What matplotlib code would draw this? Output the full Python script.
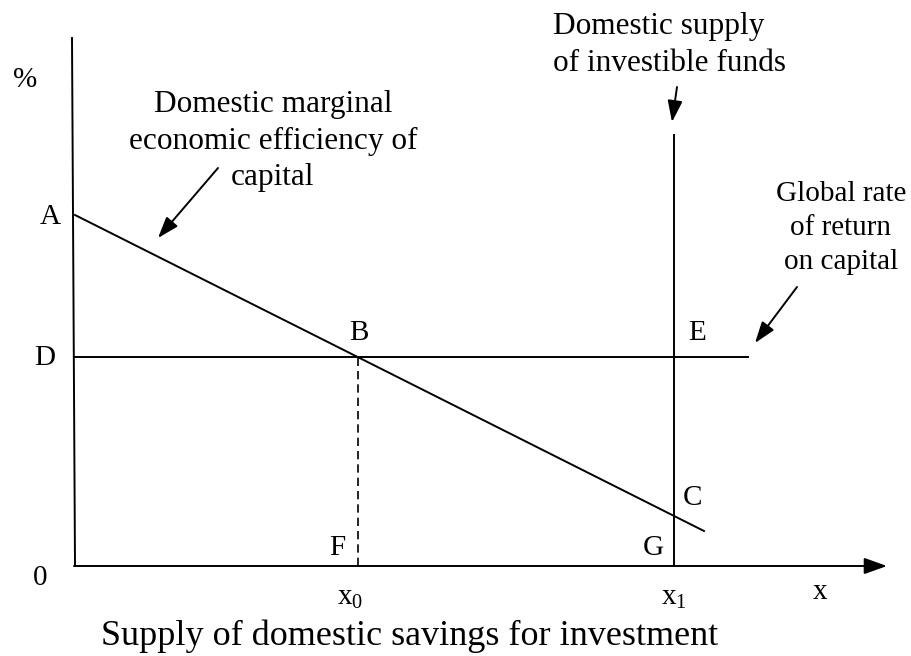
import matplotlib
matplotlib.use("Agg")
import matplotlib.pyplot as plt

# ---- diagram values (units: distance from origin 0) ----
mec_x = [0, 629]          # domestic MEC schedule, A -> past C
mec_y = [351, 35]
world_rate = 209          # D-B-E line
world_rate_end = 673
x0 = 283                  # domestic investment at world rate
x1 = 599                  # domestic supply of investible funds
supply_top = 431
yaxis_top = 528
xaxis_end = 812

point_labels = ["A", "D", "B", "E", "C", "F", "G"]

plt.rcParams["font.family"] = ["Liberation Serif", "DejaVu Serif"]
plt.rcParams["mathtext.default"] = "regular"
FS = 21
FS_NOTE = 22.5
FS_CAP = 26

fig = plt.figure(figsize=(9.11, 6.56), dpi=100)
ax = fig.add_axes([0, 0, 1, 1])
ax.set_xlim(-75, 836)
ax.set_ylim(-90, 566)
ax.axis("off")

lw = 1.4
head = "-|>,head_length=1.3,head_width=0.45"

# axes
ax.plot([0, -3], [0, yaxis_top], color="black", lw=lw)
ax.annotate("", xy=(xaxis_end, 0), xytext=(-1, 0),
            arrowprops=dict(arrowstyle="-|>,head_length=1.4,head_width=0.5",
                            color="black", lw=lw, shrinkA=0, shrinkB=0))

# schedules
ax.plot(mec_x, mec_y, color="black", lw=lw)
ax.plot([0, world_rate_end], [world_rate, world_rate], color="black", lw=lw)
ax.plot([x1, x1], [0, supply_top], color="black", lw=lw)
ax.plot([x0, x0], [0, world_rate], color="black", lw=1.2, ls=(0, (5, 3)))

# point labels
lbl_pos = {"A": (-25, 349), "D": (-30, 208), "B": (284, 233), "E": (622, 233),
           "C": (617, 68), "F": (262, 18), "G": (578, 18)}
for k in point_labels:
    ax.text(*lbl_pos[k], k, fontsize=FS, ha="center", va="center")
ax.text(-35, -12, "0", fontsize=FS, ha="center", va="center")
ax.text(-50, 486, "%", fontsize=FS, ha="center", va="center")
ax.text(x0 - 8, -32, "x$_0$", fontsize=FS, ha="center", va="center")
ax.text(x1 + 0, -32, "x$_1$", fontsize=FS, ha="center", va="center")
ax.text(745, -26, "x", fontsize=FS, ha="center", va="center")
ax.text(335, -70, "Supply of domestic savings for investment",
        fontsize=FS_CAP, ha="center", va="center")

# callouts
ax.text(198, 425, "Domestic marginal\neconomic efficiency of\ncapital",
        fontsize=FS_NOTE, ha="center", va="center", linespacing=1.33)
ax.annotate("", xy=(83, 328), xytext=(143, 398),
            arrowprops=dict(arrowstyle=head, color="black", lw=lw,
                            shrinkA=0, shrinkB=0))

ax.text(478, 521, "Domestic supply\nof investible funds",
        fontsize=FS_NOTE, ha="left", va="center", linespacing=1.33)
ax.annotate("", xy=(597, 444), xytext=(602, 479),
            arrowprops=dict(arrowstyle=head, color="black", lw=lw,
                            shrinkA=0, shrinkB=0))

ax.text(766, 338, "Global rate\nof return\non capital",
        fontsize=FS, ha="center", va="center", linespacing=1.42)
ax.annotate("", xy=(680, 223), xytext=(722, 279),
            arrowprops=dict(arrowstyle=head, color="black", lw=lw,
                            shrinkA=0, shrinkB=0))

fig.savefig("out.png", dpi=100)
